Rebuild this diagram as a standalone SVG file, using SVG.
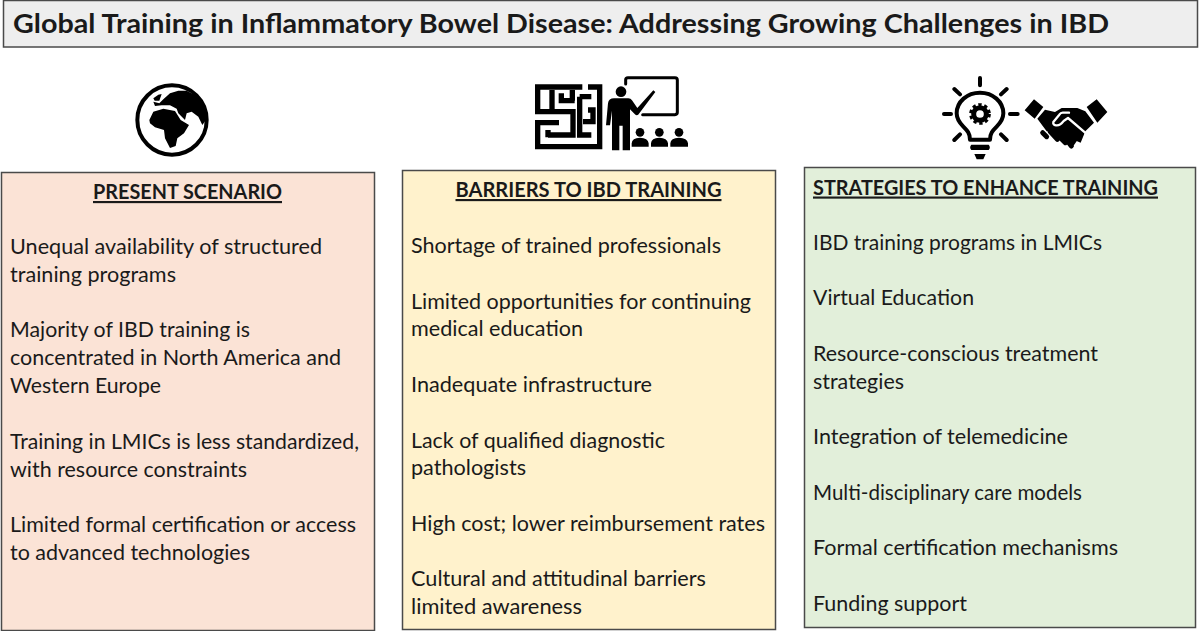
<svg xmlns="http://www.w3.org/2000/svg" width="1199" height="631" viewBox="0 0 1199 631">
<style>
text{font-family:"Lato","Carlito","Open Sans",sans-serif;fill:#1a1a1a;font-size:21.5px}
.t{font-weight:700;font-size:26.5px}
.h{font-weight:700;font-size:21.5px;text-decoration:underline}
.box{stroke:#4a4a4a;stroke-width:1.5}
.k{fill:#000;stroke:none}
.s{fill:none;stroke:#000;stroke-linecap:round;stroke-linejoin:round}
.w{fill:none;stroke:#000;stroke-linecap:butt;stroke-linejoin:miter;stroke-width:16}
</style>
<rect width="1199" height="631" fill="#fff"/>
<g id="title"><rect x="3.500" y="0.500" width="1194" height="46.500" fill="#eeeeee" class="box"/>
<text class="t" x="13" y="33" textLength="1096" lengthAdjust="spacingAndGlyphs">Global Training in Inflammatory Bowel Disease: Addressing Growing Challenges in IBD</text></g>

<g id="icon-globe" transform="translate(120 70) scale(.33333)">
<circle cx="156" cy="150" r="104" fill="#fff" stroke="#000" stroke-width="12"/>
<path class="k" d="M88 150L100 125L130 116L165 123L182 150L207 165L192 190L172 205L167 228L150 234L135 205L132 180L105 172L90 160Z"/>
<path class="k" d="M118 100L130 88L150 70L175 62L200 62L235 80L256 115L258 150L247 165L235 140L215 125L200 130L195 150L175 130L170 116L150 106L125 106L105 108L100 95Z"/>
<path class="k" d="M100 85L115 74L125 72L118 92L104 92Z"/>
</g>

<g id="icon-maze" transform="translate(533 80) scale(.33333)">
<path class="w" d="M148 21H14V95H120V165H45M57 30V95M85 40V62H125M118 30V62M165 21H200V200H14V128H78M45 150V172M140 50H175M140 50V165H175M165 90H180V125H150"/>
</g>
<g id="icon-teacher" transform="translate(600 74) scale(.33333)">
<path class="s" stroke-width="9" d="M77 30V17Q77 11 84 11H225Q232 11 232 18V115Q232 122 225 122H128"/>
<circle class="k" cx="63" cy="53" r="16"/>
<path class="k" d="M42 73H85Q92 73 96 79L112 102L160 49L166 54L118 118Q112 128 104 120L90 106V229H68V155H58V229H36V110L30 154H18L24 88Q26 73 42 73Z"/>
<circle class="k" cx="120" cy="175" r="13"/><circle class="k" cx="178" cy="175" r="13"/><circle class="k" cx="237" cy="175" r="13"/>
<path class="k" d="M95 218V208Q96 192 120 191Q144 192 146 208V218ZM153 218V208Q154 192 178 191Q202 192 204 208V218ZM211 218V208Q212 192 237 191Q262 192 264 208V218Z"/>
</g>

<g id="icon-bulb" transform="translate(930 70) scale(.33333)">
<path class="s" stroke-width="12" d="M120 209C120 190 112 182 100 170C88 158 80 148 80 130C80 95 112 68 150 68S220 95 220 130C220 148 212 158 200 170C188 182 180 190 180 209Z"/>
<path class="s" stroke-width="12" d="M150 24V46M73 57L90 73M230 57L213 73M42 132H63M240 132H263M73 210L90 193M230 210L213 193"/>
<circle class="s" cx="150" cy="132" r="19" stroke-width="15"/>
<circle cx="150" cy="132" r="28" fill="none" stroke="#000" stroke-width="9" stroke-dasharray="10 8"/>
<path class="k" d="M124 224H176Q183 232 176 240H124Q117 232 124 224ZM133 252H167L160 268H140Z"/>
</g>
<g id="icon-handshake" transform="translate(1020 92) scale(.33333)">
<path class="k" d="M14 55L42 22L70 45L44 80ZM200 45L230 22L262 60L232 92Z"/>
<path class="k" d="M52 80L75 53L105 60L125 48L172 48L196 58L222 92L196 118L182 152L168 146L130 110L80 118Z"/>
<path class="s" stroke-width="15" d="M68 122L80 134M90 118L112 142M112 128L136 152M134 135L154 162"/>
<path class="k" d="M80 105L130 100L172 145L160 162L100 125Z"/>
<path class="s" style="stroke:#fff" stroke-width="7" d="M147 62H128Q122 62 118 68L100 90Q98 98 108 100Q120 102 132 86L144 78L198 124"/>
</g>

<g id="present"><rect x="1.500" y="172.500" width="373" height="458" fill="#fbe3d6" class="box"/>
<text class="h" x="187.500" y="199" text-anchor="middle" textLength="189" lengthAdjust="spacingAndGlyphs">PRESENT SCENARIO</text>
<g>
<text x="10" y="254" textLength="312" lengthAdjust="spacingAndGlyphs">Unequal availability of structured</text>
<text x="10" y="282" textLength="166" lengthAdjust="spacingAndGlyphs">training programs</text>
<text x="10" y="337" textLength="240" lengthAdjust="spacingAndGlyphs">Majority of IBD training is</text>
<text x="10" y="365" textLength="331" lengthAdjust="spacingAndGlyphs">concentrated in North America and</text>
<text x="10" y="393" textLength="151" lengthAdjust="spacingAndGlyphs">Western Europe</text>
<text x="10" y="449" textLength="349" lengthAdjust="spacingAndGlyphs">Training in LMICs is less standardized,</text>
<text x="10" y="477" textLength="237" lengthAdjust="spacingAndGlyphs">with resource constraints</text>
<text x="10" y="532" textLength="346" lengthAdjust="spacingAndGlyphs">Limited formal certification or access</text>
<text x="10" y="560" textLength="240" lengthAdjust="spacingAndGlyphs">to advanced technologies</text>
</g></g>

<g id="barriers"><rect x="402.500" y="170.500" width="373" height="459" fill="#fff2cc" class="box"/>
<text class="h" x="588.500" y="197" text-anchor="middle" textLength="266" lengthAdjust="spacingAndGlyphs">BARRIERS TO IBD TRAINING</text>
<g>
<text x="411" y="253" textLength="310" lengthAdjust="spacingAndGlyphs">Shortage of trained professionals</text>
<text x="411" y="309" textLength="340" lengthAdjust="spacingAndGlyphs">Limited opportunities for continuing</text>
<text x="411" y="336" textLength="172" lengthAdjust="spacingAndGlyphs">medical education</text>
<text x="411" y="392" textLength="241" lengthAdjust="spacingAndGlyphs">Inadequate infrastructure</text>
<text x="411" y="448" textLength="254" lengthAdjust="spacingAndGlyphs">Lack of qualified diagnostic</text>
<text x="411" y="475" textLength="115" lengthAdjust="spacingAndGlyphs">pathologists</text>
<text x="411" y="531" textLength="354" lengthAdjust="spacingAndGlyphs">High cost; lower reimbursement rates</text>
<text x="411" y="586" textLength="295" lengthAdjust="spacingAndGlyphs">Cultural and attitudinal barriers</text>
<text x="411" y="614" textLength="171" lengthAdjust="spacingAndGlyphs">limited awareness</text>
</g></g>

<g id="strategies"><rect x="804.500" y="167.500" width="391" height="460" fill="#e2efda" class="box"/>
<text class="h" x="985.500" y="194.500" text-anchor="middle" textLength="345" lengthAdjust="spacingAndGlyphs">STRATEGIES TO ENHANCE TRAINING</text>
<g>
<text x="813" y="250" textLength="289" lengthAdjust="spacingAndGlyphs">IBD training programs in LMICs</text>
<text x="813" y="305" textLength="161" lengthAdjust="spacingAndGlyphs">Virtual Education</text>
<text x="813" y="361" textLength="285" lengthAdjust="spacingAndGlyphs">Resource-conscious treatment</text>
<text x="813" y="389" textLength="91" lengthAdjust="spacingAndGlyphs">strategies</text>
<text x="813" y="444" textLength="255" lengthAdjust="spacingAndGlyphs">Integration of telemedicine</text>
<text x="813" y="500" textLength="269" lengthAdjust="spacingAndGlyphs">Multi-disciplinary care models</text>
<text x="813" y="555" textLength="305" lengthAdjust="spacingAndGlyphs">Formal certification mechanisms</text>
<text x="813" y="611" textLength="154" lengthAdjust="spacingAndGlyphs">Funding support</text>
</g></g>
</svg>
